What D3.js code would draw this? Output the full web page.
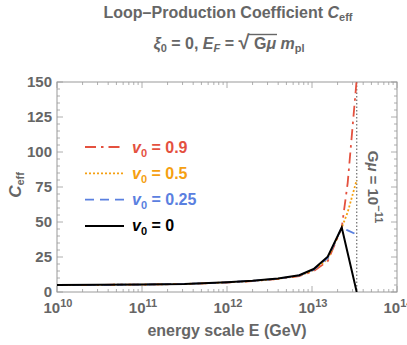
<!DOCTYPE html>
<html><head><meta charset="utf-8">
<script src="https://cdn.jsdelivr.net/npm/d3@7"></script>
<style>body{margin:0;background:#fff}svg{display:block}text{font-family:"Liberation Sans",Arial,sans-serif;font-weight:bold}</style>
</head><body><svg id="c" width="407" height="345"></svg>
<script>
// ---- data ----
const logEnergy = [10, 10.5, 11, 11.5, 12, 12.3, 12.6, 12.85, 13.02, 13.185, 13.35];
const cBlack  = [5.0, 5.1, 5.3, 5.7, 6.9, 8.0, 9.6, 12.0, 16.4, 25.2, 46];
const cRed    = [5.0, 5.1, 5.3, 5.7, 6.8, 7.8, 9.3, 11.4, 15.0, 22.0, 46];
const cOrange = [5.0, 5.1, 5.3, 5.7, 6.85, 7.9, 9.4, 11.6, 15.6, 23.5, 46];
const cBlue   = [5.0, 5.1, 5.3, 5.7, 6.9, 8.0, 9.5, 11.8, 16.0, 24.2, 46];
const tailLogEnergy = [13.42, 13.526];
const redTail    = [78, 152];
const orangeTail = [57, 80];
const blueTail   = [44, 41];
const blackTail  = [null, 0];
const gmuLogEnergy = 13.526;
const yTicks = [0, 25, 50, 75, 100, 125, 150];
const xDecades = [10, 11, 12, 13, 14];
const legendLabels = ["0.9", "0.5", "0.25", "0"];

const svg = d3.select("#c");
const gray = "#666";
const frameCol = "#9a9a9a";
const M = {l:57, r:397, t:82, b:292};
const x = d3.scaleLinear().domain([10,14]).range([M.l, M.r]);
const y = d3.scaleLinear().domain([0,150]).range([M.b, M.t]);

// title
const t1 = svg.append("text").attr("x",228).attr("y",18).attr("text-anchor","middle")
  .attr("font-size",16).attr("fill",gray);
t1.append("tspan").text("Loop\u2013Production Coefficient ");
t1.append("tspan").attr("font-style","italic").text("C");
t1.append("tspan").attr("font-size",11).attr("dy",3).text("eff");

const t2 = svg.append("text").attr("x",229).attr("y",49).attr("text-anchor","middle")
  .attr("font-size",16).attr("fill",gray);
t2.append("tspan").attr("font-style","italic").text("\u03be");
t2.append("tspan").attr("font-size",11).attr("dy",3).text("0");
t2.append("tspan").attr("dy",-3).text(" = 0, ");
t2.append("tspan").attr("font-style","italic").text("E");
t2.append("tspan").attr("font-size",11).attr("font-style","italic").attr("dy",3).text("F");
t2.append("tspan").attr("dy",-3).text(" = ");
t2.append("tspan").attr("font-size",20).text("\u221a");
t2.append("tspan").text(" G");
t2.append("tspan").attr("font-style","italic").text("\u03bc");
t2.append("tspan").text(" ");
t2.append("tspan").attr("font-style","italic").text("m");
t2.append("tspan").attr("font-size",11).attr("dy",3).text("pl");
{
  const n = t2.node();
  const full = n.textContent;
  const iS = full.indexOf("\u221a");
  const iMu = full.indexOf("\u03bc");
  const sEnd = n.getEndPositionOfChar(iS);
  const muEnd = n.getEndPositionOfChar(iMu);
  svg.append("line").attr("x1",sEnd.x-1).attr("x2",muEnd.x+1).attr("y1",34.5).attr("y2",34.5)
    .attr("stroke",gray).attr("stroke-width",1.4);
}

// frame
svg.append("rect").attr("x",M.l).attr("y",M.t).attr("width",M.r-M.l).attr("height",M.b-M.t)
  .attr("fill","none").attr("stroke",frameCol).attr("stroke-width",1);

// y ticks
const yMinor = d3.range(0,151,5).filter(v=>v%25!==0);
const tickG = svg.append("g").attr("stroke",frameCol).attr("stroke-width",0.8);
yTicks.forEach(v=>{
  tickG.append("line").attr("x1",M.l).attr("x2",M.l+6).attr("y1",y(v)).attr("y2",y(v));
  tickG.append("line").attr("x1",M.r).attr("x2",M.r-6).attr("y1",y(v)).attr("y2",y(v));
});
yMinor.forEach(v=>{
  tickG.append("line").attr("x1",M.l).attr("x2",M.l+3).attr("y1",y(v)).attr("y2",y(v));
  tickG.append("line").attr("x1",M.r).attr("x2",M.r-3).attr("y1",y(v)).attr("y2",y(v));
});
svg.append("g").selectAll("text").data(yTicks).join("text")
  .attr("x",52).attr("y",d=>y(d)+5).attr("text-anchor","end").attr("font-size",15)
  .attr("fill",gray).text(d=>d);

// x ticks
xDecades.forEach(d=>{
  tickG.append("line").attr("x1",x(d)).attr("x2",x(d)).attr("y1",M.b).attr("y2",M.b-6);
  tickG.append("line").attr("x1",x(d)).attr("x2",x(d)).attr("y1",M.t).attr("y2",M.t+6);
  if(d<14) for(let k=2;k<=9;k++){
    const xv = x(d+Math.log10(k));
    tickG.append("line").attr("x1",xv).attr("x2",xv).attr("y1",M.b).attr("y2",M.b-3);
    tickG.append("line").attr("x1",xv).attr("x2",xv).attr("y1",M.t).attr("y2",M.t+3);
  }
});
xDecades.forEach(d=>{
  const tx = svg.append("text").attr("x",x(d)+1).attr("y",313).attr("text-anchor","middle")
    .attr("font-size",15).attr("fill",gray);
  tx.append("tspan").text("10");
  tx.append("tspan").attr("font-size",11).attr("dy",-6).text(d);
});

// axis labels
svg.append("text").attr("x",227).attr("y",336).attr("text-anchor","middle")
  .attr("font-size",16).attr("fill",gray).text("energy scale E (GeV)");
const yl = svg.append("text").attr("transform","translate(21,185) rotate(-90)")
  .attr("text-anchor","middle").attr("font-size",17).attr("fill",gray);
yl.append("tspan").attr("font-style","italic").text("C");
yl.append("tspan").attr("font-size",11).attr("dy",3).text("eff");

// clip
svg.append("clipPath").attr("id","cp").append("rect")
  .attr("x",M.l).attr("y",M.t).attr("width",M.r-M.l).attr("height",M.b-M.t);
const plot = svg.append("g").attr("clip-path","url(#cp)");

// vertical dotted line
plot.append("line").attr("x1",x(gmuLogEnergy)).attr("x2",x(gmuLogEnergy))
  .attr("y1",M.t).attr("y2",M.b).attr("stroke","#777").attr("stroke-width",1.3)
  .attr("stroke-dasharray","1.5,2");

const line = d3.line().defined(d=>d[1]!==null).x(d=>x(d[0])).y(d=>y(d[1]));
function pts(main, tail){
  const p = logEnergy.map((e,i)=>[e,main[i]]);
  tailLogEnergy.forEach((e,i)=>{ if(tail[i]!==null) p.push([e,tail[i]]); });
  return p;
}
const series = [
  {vals:cRed, tail:redTail, color:"#e4513f", dash:"11,5,2.5,5", label:legendLabels[0]},
  {vals:cOrange, tail:orangeTail, color:"#f5a011", dash:"2,2", label:legendLabels[1]},
  {vals:cBlue, tail:blueTail, color:"#5a80e0", dash:"9,6", label:legendLabels[2]},
  {vals:cBlack, tail:blackTail, color:"#000", dash:null, label:legendLabels[3]},
];
series.forEach(s=>{
  plot.append("path").datum(pts(s.vals,s.tail)).attr("d",line).attr("fill","none")
    .attr("stroke",s.color).attr("stroke-width",s.dash?1.8:2)
    .attr("stroke-dasharray",s.dash);
});

// legend
series.forEach((s,i)=>{
  const ly = 147 + i*26.3;
  svg.append("line").attr("x1",85).attr("x2",124).attr("y1",ly).attr("y2",ly)
    .attr("stroke",s.color).attr("stroke-width",s.dash?1.8:2).attr("stroke-dasharray",s.dash);
  const lt = svg.append("text").attr("x",132).attr("y",ly+5.5).attr("font-size",16).attr("fill",s.color);
  lt.append("tspan").attr("font-style","italic").text("v");
  lt.append("tspan").attr("font-size",11).attr("dy",4).text("0");
  lt.append("tspan").attr("dy",-4).text(" = "+s.label);
});

// G mu label
const gl = svg.append("text").attr("transform","translate(368,187) rotate(90)")
  .attr("text-anchor","middle").attr("font-size",15).attr("fill",gray);
gl.append("tspan").text("G");
gl.append("tspan").attr("font-style","italic").text("\u03bc");
gl.append("tspan").text(" = 10");
gl.append("tspan").attr("font-size",11).attr("dy",-7).text("\u221211");
</script></body></html>
